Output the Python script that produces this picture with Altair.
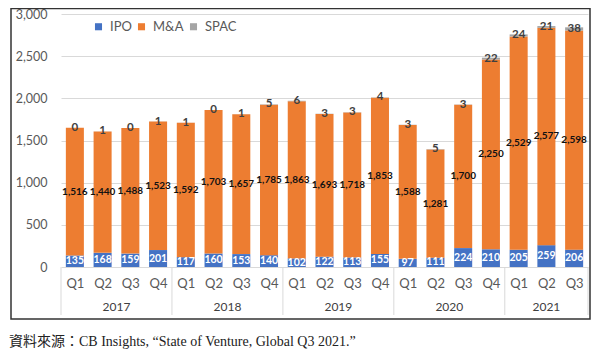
import altair as alt
import pandas as pd

quarters = ["Q1", "Q2", "Q3", "Q4"] * 4 + ["Q1", "Q2", "Q3"]
years = ["2017"] * 4 + ["2018"] * 4 + ["2019"] * 4 + ["2020"] * 4 + ["2021"] * 3
ipo = [135, 168, 159, 201, 117, 160, 153, 140, 102, 122, 113, 155, 97, 111, 224, 210, 205, 259, 206]
ma = [1516, 1440, 1488, 1523, 1592, 1703, 1657, 1785, 1863, 1693, 1718, 1853, 1588, 1281, 1700, 2250, 2529, 2577, 2598]
spac = [0, 1, 0, 1, 1, 0, 1, 5, 6, 3, 3, 4, 3, 5, 3, 22, 24, 21, 38]
series_names = ["IPO", "M&A", "SPAC"]
series_colors = ["#4472C4", "#ED7D31", "#A5A5A5"]
y_ticks = [0, 500, 1000, 1500, 2000, 2500, 3000]
caption = "資料來源：CB Insights, “State of Venture, Global  Q3 2021.”"

rows = []
for i in range(len(quarters)):
    for k, (name, vals) in enumerate(zip(series_names, [ipo, ma, spac])):
        rows.append(dict(idx=i, quarter=quarters[i], year=years[i], series=name, order=k, value=vals[i]))
df = pd.DataFrame(rows)

# year groups
year_rows = []
bounds = []
for y in dict.fromkeys(years):
    idxs = [i for i, yy in enumerate(years) if yy == y]
    year_rows.append(dict(year=y, center=(idxs[0] + idxs[-1]) / 2))
    bounds.append(idxs[0] - 0.5)
bounds.append(len(years) - 0.5)
year_df = pd.DataFrame(year_rows)
bound_df = pd.DataFrame({"pos": bounds})

n = len(quarters)
x_scale = alt.Scale(domain=[-0.5, n - 0.5], nice=False, zero=False)
y_scale = alt.Scale(domain=[0, 3000], nice=False)
labels_js = "[" + ",".join(f"'{q}'" for q in quarters) + "]"

x_axis = alt.Axis(
    values=list(range(n)), labelExpr=f"{labels_js}[datum.value]", title=None, grid=False,
    ticks=False, domain=False, labelFontSize=13, labelColor="#595959", labelPadding=10,
    labelFont="Lato", labelFlush=False, labelOverlap=False)
y_axis = alt.Axis(
    values=y_ticks, format=",d", title=None, ticks=False, domain=False, grid=True,
    gridColor="#D9D9D9", gridWidth=1, gridOpacity=1,
    labelFontSize=12.5, labelColor="#595959", labelPadding=14, labelFont="Lato",
    labelOverlap=False, labelFlush=False)

base = alt.Chart(df).transform_stack(
    stack="value", groupby=["idx"], sort=[alt.SortField("order", order="ascending")], as_=["v0", "v1"]
).transform_calculate(
    xa="datum.idx - 0.325", xb="datum.idx + 0.325", mid="(datum.v0 + datum.v1) / 2"
)

bars = base.mark_bar().encode(
    x=alt.X("xa:Q", scale=x_scale, axis=x_axis),
    x2="xb:Q",
    y=alt.Y("v0:Q", scale=y_scale, axis=y_axis),
    y2="v1:Q",
    color=alt.Color("series:N", scale=alt.Scale(domain=series_names, range=series_colors),
                    legend=alt.Legend(title=None, orient="none", legendX=31, legendY=6,
                                      direction="horizontal", symbolType="square", symbolSize=50,
                                      symbolStrokeWidth=0, labelFontSize=13, labelFont="Lato",
                                      labelColor="#595959", columnPadding=3, labelOffset=5, padding=0)),
    order=alt.Order("order:Q", sort="ascending"),
)


def label_layer(series, color, size):
    return base.transform_filter(f"datum.series == '{series}'").mark_text(
        color=color, fontWeight="bold", fontSize=size, font="Lato"
    ).encode(
        x=alt.X("idx:Q", scale=x_scale, axis=x_axis),
        y=alt.Y("mid:Q", scale=y_scale, axis=y_axis),
        text=alt.Text("value:Q", format=","),
    )


ipo_lbl = label_layer("IPO", "white", 10.5)
ma_lbl = label_layer("M&A", "#111111", 10)
spac_lbl = label_layer("SPAC", "#404040", 11.5)

year_lbl = alt.Chart(year_df).mark_text(fontSize=12, font="Lato", color="#404040").encode(
    x=alt.X("center:Q", scale=x_scale, axis=x_axis), y=alt.value(293), text="year:N"
)
seps = alt.Chart(bound_df).mark_rule(color="#D9D9D9", strokeWidth=1).encode(
    x=alt.X("pos:Q", scale=x_scale, axis=x_axis), y=alt.value(253), y2=alt.value(301)
)
frame = alt.Chart(pd.DataFrame({"a": [0]})).mark_rect(fill="transparent", stroke="#333333", strokeWidth=1.5).encode(
    x=alt.value(-50), x2=alt.value(529), y=alt.value(-5.5), y2=alt.value(305)
)
cap = alt.Chart(pd.DataFrame({"a": [0]})).mark_text(
    align="left", baseline="middle", fontSize=14, color="#222222",
    font="Liberation Serif, Noto Sans CJK TC"
).encode(x=alt.value(-52), y=alt.value(328), text=alt.value(caption))

chart = alt.layer(bars, ipo_lbl, ma_lbl, spac_lbl, year_lbl, seps, frame, cap).properties(
    width=527, height=253,
    autosize=alt.AutoSizeParams(type="none"),
    padding={"left": 53, "top": 6, "right": 4, "bottom": 83},
).configure_view(stroke=None)

chart.save("out.html", embed_options={"renderer": "svg", "actions": False})
